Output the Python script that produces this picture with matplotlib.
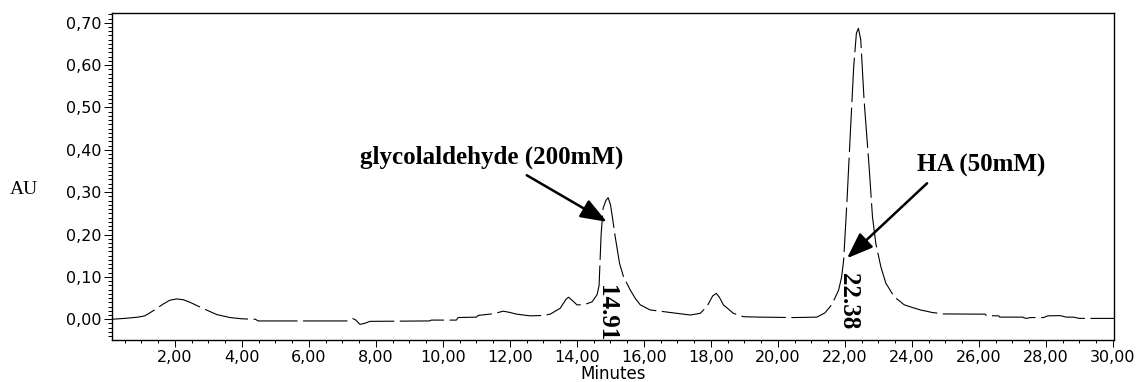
import matplotlib
matplotlib.use("Agg")
import matplotlib.pyplot as plt
from matplotlib.ticker import MultipleLocator, FuncFormatter

# ==== DATA ====
time_min = [0.12, 0.50, 0.90, 1.10, 1.35, 1.65, 1.85, 2.05, 2.25, 2.45, 2.85, 3.25,
            3.64, 4.00, 4.40, 4.48, 7.15, 7.30, 7.40, 7.52, 7.65, 7.82, 9.60, 9.65,
            10.40, 10.45, 11.00, 11.05, 11.50, 11.80, 12.00, 12.20, 12.60, 13.00,
            13.20, 13.50, 13.68, 13.75, 13.85, 14.00, 14.20, 14.45, 14.60, 14.66,
            14.72, 14.78, 14.86, 14.93, 15.00, 15.05, 15.14, 15.27, 15.39, 15.59,
            15.75, 15.89, 16.18, 16.78, 17.38, 17.68, 17.88, 18.05, 18.16, 18.25,
            18.37, 18.67, 18.97, 19.47, 20.50, 21.16, 21.40, 21.56, 21.70, 21.81,
            21.90, 21.96, 22.06, 22.16, 22.26, 22.34, 22.40, 22.47, 22.57, 22.72,
            22.82, 22.92, 23.07, 23.22, 23.47, 23.77, 24.00, 24.25, 24.60, 24.94,
            26.19, 26.22, 26.59, 26.62, 27.30, 27.40, 27.55, 27.93, 28.05, 28.43,
            28.60, 28.82, 29.00, 30.03]
absorbance = [0.000, 0.002, 0.005, 0.008, 0.020, 0.036, 0.045, 0.048, 0.046, 0.040, 0.025, 0.011,
              0.004, 0.001, 0.000, -0.004, -0.004, 0.002, -0.002, -0.012, -0.010, -0.005, -0.004, -0.002,
              -0.002, 0.004, 0.005, 0.009, 0.013, 0.019, 0.016, 0.012, 0.008, 0.009,
              0.012, 0.026, 0.048, 0.052, 0.045, 0.034, 0.034, 0.041, 0.058, 0.080,
              0.200, 0.262, 0.280, 0.287, 0.270, 0.245, 0.195, 0.132, 0.100, 0.069,
              0.048, 0.034, 0.022, 0.016, 0.010, 0.014, 0.030, 0.055, 0.061, 0.052,
              0.034, 0.014, 0.006, 0.005, 0.004, 0.005, 0.015, 0.030, 0.050, 0.069,
              0.100, 0.140, 0.280, 0.440, 0.596, 0.675, 0.687, 0.660, 0.517, 0.360,
              0.242, 0.179, 0.124, 0.085, 0.053, 0.034, 0.028, 0.022, 0.016, 0.0125,
              0.012, 0.0085, 0.008, 0.005, 0.005, 0.002, 0.004, 0.004, 0.008, 0.0085,
              0.005, 0.005, 0.002, 0.002]

peak_labels = ["14.91", "22.38"]
peak_label_x = [14.89, 22.10]
peak_label_y = [0.081, 0.109]

compounds = ["glycolaldehyde (200mM)", "HA (50mM)"]
text_xy = [(11.45, 0.382), (26.07, 0.364)]
arrow_tail = [(12.50, 0.340), (24.45, 0.321)]
arrow_head = [(14.89, 0.230), (22.06, 0.144)]

SERIF = "Liberation Serif"
SANS = "DejaVu Sans"
plt.rcParams["font.family"] = [SANS]

# ==== PLOT ====
fig = plt.figure(figsize=(11.39, 3.82), dpi=100)
ax = fig.add_axes([112 / 1139, 42 / 382, 1002 / 1139, 327 / 382])

ax.plot(time_min, absorbance, color="black", lw=0.8, linestyle=(0, (40, 5)))

ax.set_xlim(0.12, 30.03)
ax.set_ylim(-0.049, 0.723)

ax.xaxis.set_major_locator(MultipleLocator(2))
ax.xaxis.set_minor_locator(MultipleLocator(0.5))
ax.yaxis.set_major_locator(MultipleLocator(0.1))
ax.yaxis.set_minor_locator(MultipleLocator(0.01))
comma = FuncFormatter(lambda v, p: f"{v:.2f}".replace(".", ","))
ax.xaxis.set_major_formatter(comma)
ax.yaxis.set_major_formatter(comma)

ax.tick_params(axis="both", which="major", direction="out", length=5, width=0.7,
               labelsize=11.5, pad=2, labelfontfamily=SANS)
ax.tick_params(axis="both", which="minor", direction="out", length=2.2, width=0.7)
ax.tick_params(axis="y", which="major", length=5.5)
ax.tick_params(axis="y", which="minor", length=3)

for sp in ax.spines.values():
    sp.set_linewidth(1.0)

ax.set_xlabel("Minutes", family=SANS, fontsize=12, labelpad=0)
fig.text(24 / 1139, 1 - 190 / 382, "AU", family=SERIF, fontsize=14,
         ha="center", va="center")

# retention times
for lab, x, y in zip(peak_labels, peak_label_x, peak_label_y):
    ax.text(x, y, lab, rotation=270, ha="center", va="top", family=SERIF,
            fontweight="bold", fontsize=18, clip_on=False)

# compound names with arrows
for name, (tx, ty), tail, head in zip(compounds, text_xy, arrow_tail, arrow_head):
    ax.text(tx, ty, name, ha="center", va="center", family=SERIF,
            fontweight="bold", fontsize=18)
    ax.annotate("", xy=head, xytext=tail,
                arrowprops=dict(arrowstyle="-|>,head_length=0.8,head_width=0.3",
                                mutation_scale=20, lw=1.8, color="black",
                                shrinkA=0, shrinkB=0))

fig.savefig("out.png", dpi=100)
